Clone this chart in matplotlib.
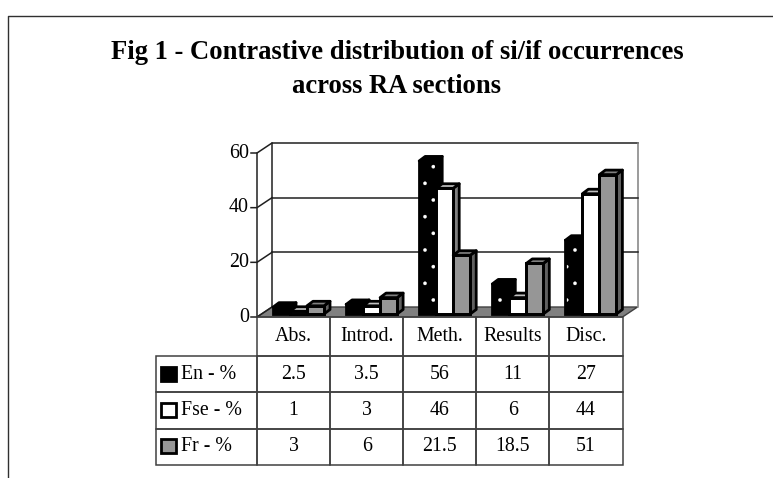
import matplotlib
matplotlib.use("Agg")
import matplotlib.pyplot as plt
from matplotlib.font_manager import FontProperties
from matplotlib.lines import Line2D
from matplotlib.patches import Polygon, Rectangle
from matplotlib.table import Table

plt.rcParams['font.family'] = ['Liberation Serif', 'DejaVu Serif']
plt.rcParams['hatch.linewidth'] = 0.2

categories = ['Abs.', 'Introd.', 'Meth.', 'Results', 'Disc.']
series_names = ['En - %', 'Fse - %', 'Fr - %']
en_values = [2.5, 3.5, 56, 11, 27]
fse_values = [1, 3, 46, 6, 44]
fr_values = [3, 6, 21.5, 18.5, 51]
y_ticks = [0, 20, 40, 60]
title_text = 'Fig 1 - Contrastive distribution of si/if occurrences\nacross RA sections'

W, H = 773, 478
fig = plt.figure(figsize=(W / 100, H / 100), dpi=100, facecolor='white')

# outer frame of the page: left and top edges only
page = fig.add_axes([0, 0, 1, 1])
page.set_xlim(0, W)
page.set_ylim(H, 0)
page.axis('off')
page.add_line(Line2D([8, 8, W], [H - 1, 15.5, 15.5], color='#303030', lw=1.0))
page.text(397, 69.5, title_text, ha='center', va='center', fontsize=19.2,
          fontweight='bold', linespacing=1.45, color='black')

# plot area: front face of the 3D box
x0, x1, ytop, ybot = 257, 622.5, 153, 317
ax = fig.add_axes([x0 / W, 1 - ybot / H, (x1 - x0) / W, (ybot - ytop) / H])
n = len(categories)
ax.set_xlim(0, n)
ax.set_ylim(0, 60)
ax.axis('off')
ax.patch.set_alpha(0)

px = n / (x1 - x0)      # data units per pixel in x
py = 60 / (ybot - ytop)  # data units per pixel in y
dx, dy = 15 * px, 10 * py
bar_w = 17 * px
inset = 16 * px
base = 3 * py
bdx, bdy = 6 * px, 4.5 * py
LINE = '#202020'
lw_bar = 2.0

# floor and walls
ax.add_patch(Polygon([(0, 0), (dx, dy), (n + dx, dy), (n, 0)], closed=True,
                     fc='#808080', ec='#404040', lw=1, clip_on=False, zorder=1))
ax.add_line(Line2D([0, 0], [0, 60], color=LINE, lw=1.1, clip_on=False, zorder=2))
ax.add_line(Line2D([dx, dx, n + dx], [dy, 60 + dy, 60 + dy], color=LINE, lw=1.1, clip_on=False, zorder=2))
ax.add_line(Line2D([n + dx, n + dx], [dy, 60 + dy], color='#808080', lw=1.1, clip_on=False, zorder=2))
for t in y_ticks:
    ax.add_line(Line2D([-6 * px, 0, dx], [t, t, t + dy], color=LINE, lw=1.1, clip_on=False, zorder=2))
    ax.text(-8 * px, t, str(t), ha='right', va='center', fontsize=14.4, color='black')
    if 0 < t < 60:
        ax.add_line(Line2D([dx, n + dx], [t + dy, t + dy], color=LINE, lw=1.1, clip_on=False, zorder=2))

# bars
styles = [
    dict(front='black', top='black', side='black', hatch='.'),
    dict(front='white', top='#c0c0c0', side='#808080', hatch=None),
    dict(front='#969696', top='#808080', side='#606060', hatch=None),
]
for s, (vals, st) in enumerate(zip([en_values, fse_values, fr_values], styles)):
    xs = [i + inset + s * bar_w for i in range(n)]
    for xl, v in zip(xs, vals):
        top = base + v
        z = 3 + s
        ax.add_patch(Polygon([(xl + bar_w, base), (xl + bar_w + bdx, base + bdy),
                              (xl + bar_w + bdx, top + bdy), (xl + bar_w, top)], closed=True,
                             fc=st['side'], ec='black', lw=lw_bar, clip_on=False, zorder=z, joinstyle='round'))
        ax.add_patch(Polygon([(xl, top), (xl + bdx, top + bdy), (xl + bar_w + bdx, top + bdy),
                              (xl + bar_w, top)], closed=True,
                             fc=st['top'], ec='black', lw=lw_bar, clip_on=False, zorder=z, joinstyle='round'))
    ax.bar(xs, vals, width=bar_w, bottom=base, align='edge', color=st['front'],
           edgecolor='white' if st['hatch'] else 'black',
           hatch=st['hatch'], lw=0 if st['hatch'] else lw_bar, clip_on=False, zorder=3 + s)
    ax.bar(xs, vals, width=bar_w, bottom=base, align='edge', fill=False, edgecolor='black',
           lw=lw_bar, clip_on=False, zorder=3 + s)

# data table underneath, in axes fractions
plot_h = ybot - ytop
row_label_w = (257 - 156) / (x1 - x0)
col_w = 1 / n
head_h = 39 / plot_h
row_h = 36.5 / plot_h
table = Table(ax, bbox=[0, -(465 - ybot) / plot_h, 1, (465 - ybot) / plot_h])
table.auto_set_font_size(False)
cell_font = FontProperties(family='Liberation Serif', size=14.3)
for c, name in enumerate(categories):
    table.add_cell(0, c, col_w, head_h, text=name, loc='center', fontproperties=cell_font)
for r, (name, vals) in enumerate(zip(series_names, (en_values, fse_values, fr_values)), start=1):
    lab = table.add_cell(r, -1, row_label_w, row_h, text=name, loc='left', fontproperties=cell_font)
    lab.PAD = 0.25
    for c, v in enumerate(vals):
        table.add_cell(r, c, col_w, row_h, text=f'{v:g}', loc='center', fontproperties=cell_font)
for cell in table.get_celld().values():
    cell.set_edgecolor('#404040')
    cell.set_linewidth(1.1)
    cell.set_facecolor('none')
table.set_zorder(8)
ax.add_table(table)
table.set_clip_on(False)

# legend keys beside the row labels
for r, st in enumerate(styles):
    yc = 374 + r * 36.2
    page.add_patch(Rectangle((161, yc - 7), 15, 14, fc=st['front'], ec='black', lw=2.0, zorder=9))

fig.savefig('out.png', dpi=100, facecolor='white')
